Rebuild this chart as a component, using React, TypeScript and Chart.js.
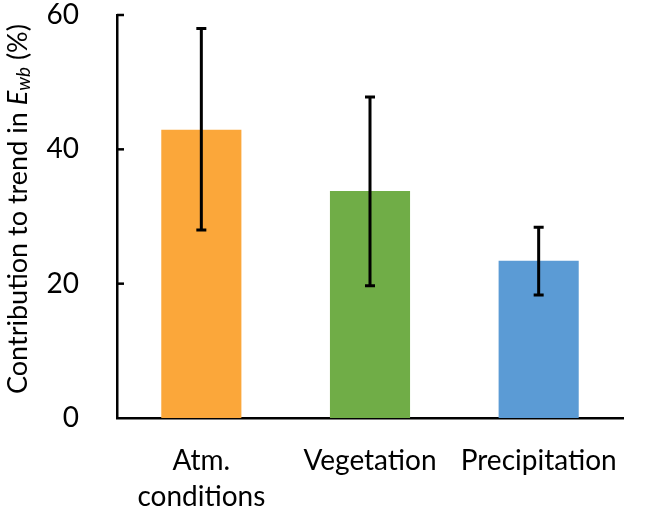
import { useEffect, useRef } from "react"
import { Chart, registerables } from "chart.js"

Chart.register(...registerables)

const categories: (string | string[])[] = [["Atm.", "conditions"], "Vegetation", "Precipitation"]
const contributions = [42.9, 33.8, 23.4]
const errLow = [28.0, 19.7, 18.3]
const errHigh = [58.0, 47.8, 28.4]
const barColors = ["#FBA73A", "#70AD47", "#5B9BD5"]
const yTicks = [0, 20, 40, 60]

const FONT = "Lato, 'Open Sans', sans-serif"

// draws the error bars and the inward tick marks
const extrasPlugin = {
  id: "extras",
  afterDatasetsDraw(chart: any) {
    const ctx = chart.ctx
    const x = chart.scales.x
    const y = chart.scales.y
    ctx.save()
    ctx.strokeStyle = "#000"
    ctx.lineWidth = 3
    ctx.lineCap = "butt"
    contributions.forEach((_, i) => {
      const cx = x.getPixelForValue(i)
      const top = y.getPixelForValue(errHigh[i])
      const bot = y.getPixelForValue(errLow[i])
      ctx.beginPath()
      ctx.moveTo(cx, top)
      ctx.lineTo(cx, bot)
      ctx.moveTo(cx - 5, top)
      ctx.lineTo(cx + 5, top)
      ctx.moveTo(cx - 5, bot)
      ctx.lineTo(cx + 5, bot)
      ctx.stroke()
    })
    ctx.lineWidth = 2.5
    yTicks.forEach((t) => {
      if (t === 0) return
      const py = y.getPixelForValue(t)
      ctx.beginPath()
      ctx.moveTo(chart.chartArea.left, py)
      ctx.lineTo(chart.chartArea.left + 7, py)
      ctx.stroke()
    })
    ctx.restore()
  },
  afterDraw(chart: any) {
    // y axis title with italic E and subscript wb
    const ctx = chart.ctx
    const parts = [
      { t: "Contribution to trend in ", f: `27px ${FONT}`, dy: 0 },
      { t: "E", f: `italic 27px ${FONT}`, dy: 0 },
      { t: "wb", f: `italic 19px ${FONT}`, dy: 6 },
      { t: " (%)", f: `27px ${FONT}`, dy: 0 },
    ]
    ctx.save()
    let total = 0
    parts.forEach((p) => {
      ctx.font = p.f
      total += ctx.measureText(p.t).width
    })
    ctx.translate(18, 209)
    ctx.rotate(-Math.PI / 2)
    ctx.fillStyle = "#000"
    ctx.textBaseline = "middle"
    let px = -total / 2
    parts.forEach((p) => {
      ctx.font = p.f
      ctx.fillText(p.t, px, p.dy)
      px += ctx.measureText(p.t).width
    })
    ctx.restore()
  },
}

function ContributionChart() {
  const canvasRef = useRef<HTMLCanvasElement>(null)
  const chartInstance = useRef<Chart | null>(null)

  useEffect(() => {
    if (!canvasRef.current) return
    if (chartInstance.current) chartInstance.current.destroy()

    chartInstance.current = new Chart(canvasRef.current, {
      type: "bar",
      data: {
        labels: categories,
        datasets: [
          {
            data: contributions,
            backgroundColor: barColors,
            categoryPercentage: 1,
            barPercentage: 0.475,
          },
        ],
      },
      options: {
        responsive: true,
        maintainAspectRatio: false,
        animation: false,
        layout: { padding: { top: 15, right: 24, left: 0, bottom: 0 } },
        plugins: {
          legend: { display: false },
          tooltip: { enabled: false },
        },
        scales: {
          x: {
            grid: { display: false },
            border: { display: true, color: "#000", width: 2.5 },
            ticks: {
              color: "#000",
              font: { family: FONT, size: 28, lineHeight: 1.32 },
              padding: 16,
              maxRotation: 0,
              autoSkip: false,
            },
            afterFit: (scale: any) => {
              scale.height = 93
              scale.paddingLeft = 0
              scale.paddingRight = 0
            },
          },
          y: {
            min: 0,
            max: 60,
            grid: { display: false },
            border: { display: true, color: "#000", width: 2.5 },
            afterBuildTicks: (scale: any) => {
              scale.ticks = yTicks.map((v) => ({ value: v }))
            },
            ticks: {
              color: "#000",
              font: { family: FONT, size: 28 },
              padding: 30,
            },
            afterFit: (scale: any) => {
              scale.width = 117
              scale.paddingTop = 0
              scale.paddingBottom = 0
            },
          },
        },
      },
      plugins: [extrasPlugin],
    })

    return () => {
      if (chartInstance.current) {
        chartInstance.current.destroy()
        chartInstance.current = null
      }
    }
  }, [])

  return <canvas ref={canvasRef} />
}

export default function App() {
  return (
    <div style={{ position: "absolute", left: 0, top: 0, width: 647, height: 511, background: "#fff" }}>
      <ContributionChart />
    </div>
  )
}
